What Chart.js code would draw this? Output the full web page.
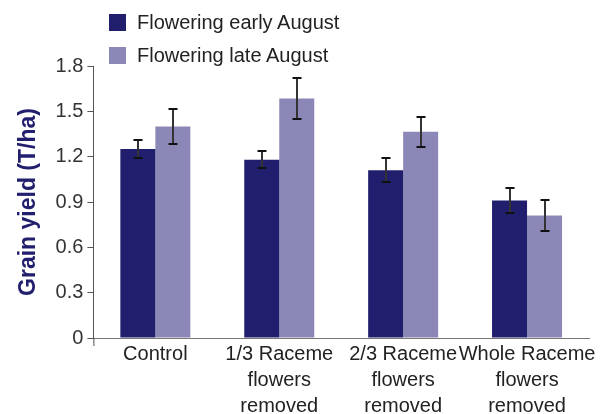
<!DOCTYPE html>
<html>
<head>
<meta charset="utf-8">
<script src="https://cdn.jsdelivr.net/npm/chart.js@4/dist/chart.umd.min.js"></script>
<style>
  html, body { margin: 0; padding: 0; background: #fff; }
  #wrap { position: relative; width: 603px; height: 414px; }
  #legend { position: absolute; left: 109px; top: 6px; font-family: "Liberation Sans", Arial, sans-serif; font-size: 20px; color: #222; }
  .li { display: flex; align-items: center; height: 33px; }
  .sw { width: 17px; height: 17px; margin-right: 11px; }
</style>
</head>
<body>
<div id="wrap">
  <canvas id="c" width="603" height="414"></canvas>
  <div id="legend"></div>
</div>
<script>
const categories = [
  ["Control"],
  ["1/3 Raceme", "flowers", "removed"],
  ["2/3 Raceme", "flowers", "removed"],
  ["Whole Raceme", "flowers", "removed"]
];
const seriesNames = ["Flowering early August", "Flowering late August"];
const earlyValues = [1.25, 1.18, 1.11, 0.91];
const earlyErrors = [0.06, 0.055, 0.08, 0.085];
const lateValues = [1.40, 1.585, 1.365, 0.81];
const lateErrors = [0.115, 0.135, 0.10, 0.10];
const yTicks = [0, 0.3, 0.6, 0.9, 1.2, 1.5, 1.8];

const colors = ["#221e6e", "#8b87b6"];
const errorsBySeries = [earlyErrors, lateErrors];

// HTML legend
const legendEl = document.getElementById('legend');
seriesNames.forEach((n, i) => {
  const d = document.createElement('div'); d.className = 'li';
  const s = document.createElement('div'); s.className = 'sw'; s.style.background = colors[i];
  const t = document.createElement('span'); t.textContent = n;
  d.appendChild(s); d.appendChild(t); legendEl.appendChild(d);
});

const errorBarPlugin = {
  id: 'errorBars',
  afterDatasetsDraw(chart) {
    const ctx = chart.ctx;
    const yScale = chart.scales.y;
    chart.data.datasets.forEach((ds, i) => {
      const meta = chart.getDatasetMeta(i);
      const errs = errorsBySeries[i];
      meta.data.forEach((bar, j) => {
        const v = ds.data[j], e = errs[j];
        const x = Math.round(bar.x);
        const yT = Math.round(yScale.getPixelForValue(v + e));
        const yB = Math.round(yScale.getPixelForValue(v - e));
        ctx.save();
        ctx.lineWidth = 2;
        ctx.strokeStyle = '#333';
        ctx.beginPath();
        ctx.moveTo(x, yT); ctx.lineTo(x, yB);
        ctx.stroke();
        ctx.strokeStyle = '#111';
        ctx.beginPath();
        ctx.moveTo(x - 4.5, yT); ctx.lineTo(x + 4.5, yT);
        ctx.moveTo(x - 4.5, yB); ctx.lineTo(x + 4.5, yB);
        ctx.stroke();
        ctx.restore();
      });
    });
  }
};

const axisTickPlugin = {
  id: 'axisTick',
  afterDraw(chart) {
    const a = chart.chartArea, ctx = chart.ctx;
    ctx.save();
    ctx.strokeStyle = '#555'; ctx.lineWidth = 1;
    ctx.beginPath();
    ctx.moveTo(a.left + 0.5, a.bottom); ctx.lineTo(a.left + 0.5, a.bottom + 8);
    ctx.stroke();
    ctx.restore();
  }
};

const FONT = "'Liberation Sans', Arial, sans-serif";

new Chart(document.getElementById('c'), {
  type: 'bar',
  data: {
    labels: categories,
    datasets: seriesNames.map((n, i) => ({
      label: n,
      data: i === 0 ? earlyValues : lateValues,
      backgroundColor: colors[i],
      borderWidth: 0,
      barPercentage: 1.0,
      categoryPercentage: 0.565
    }))
  },
  options: {
    responsive: false,
    animation: false,
    devicePixelRatio: 1,
    layout: { padding: { top: 66, right: 14, left: 15, bottom: -8 } },
    plugins: {
      legend: { display: false },
      tooltip: { enabled: false }
    },
    scales: {
      x: {
        grid: { display: false, drawTicks: false },
        border: { color: '#777', width: 1 },
        ticks: {
          color: '#222',
          font: { family: FONT, size: 20, lineHeight: 1.3 },
          maxRotation: 0,
          autoSkip: false,
          padding: 3
        }
      },
      y: {
        min: 0, max: 1.8,
        afterBuildTicks(scale) { scale.ticks = yTicks.map(v => ({ value: v })); },
        grid: { drawOnChartArea: false, drawTicks: true, tickLength: 6, color: '#555' },
        border: { color: '#555', width: 1 },
        ticks: {
          color: '#333',
          font: { family: FONT, size: 20 },
          padding: 4,
          callback: v => (v === 0 ? '0' : v.toFixed(1))
        },
        title: {
          display: true,
          text: 'Grain yield (T/ha)',
          color: '#22206e',
          font: { family: FONT, size: 23, weight: 'bold' },
          padding: { top: 0, bottom: 9 }
        }
      }
    }
  },
  plugins: [errorBarPlugin, axisTickPlugin]
});
</script>
</body>
</html>
